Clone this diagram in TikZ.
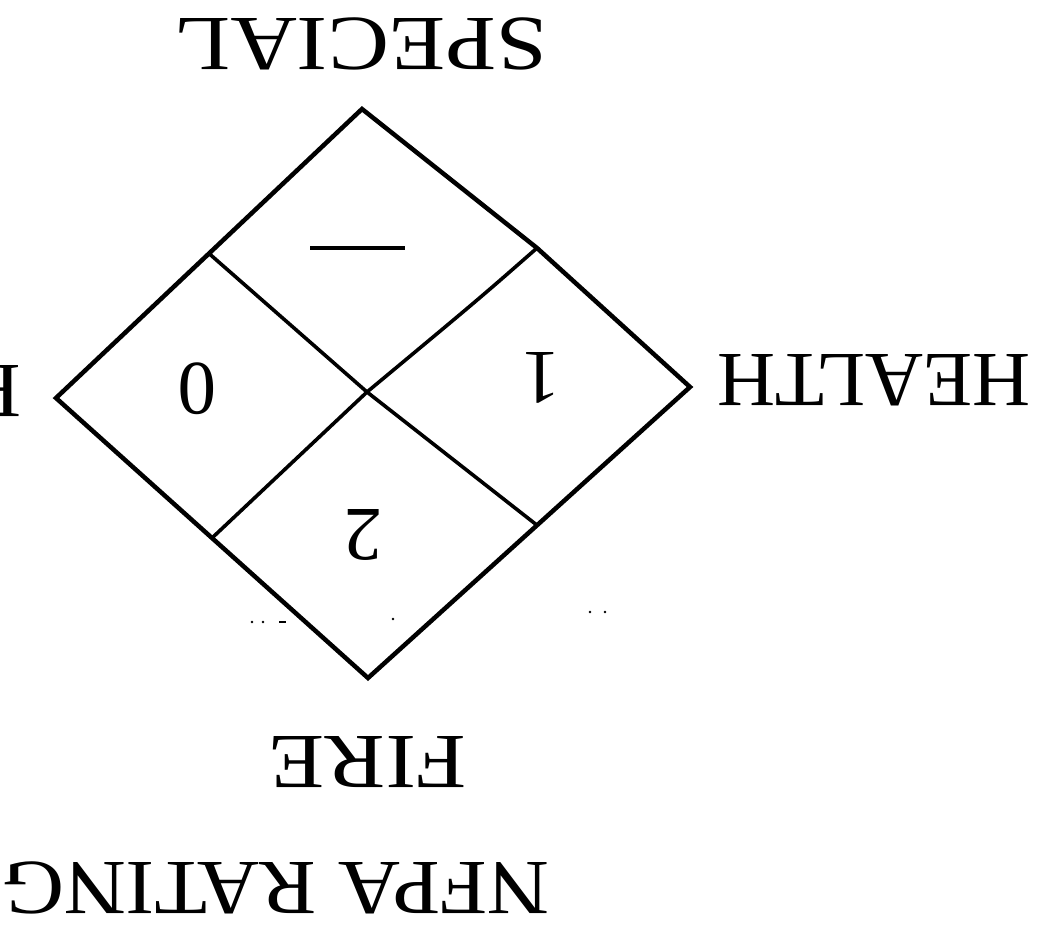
\documentclass[tikz,border=0pt]{standalone}
\usepackage{fontspec}
\setmainfont{Liberation Serif}
\usetikzlibrary{calc}
\begin{document}
\begin{tikzpicture}[x=1pt,y=-1pt,
  outline/.style={line width=4.5pt, line join=miter, line cap=round},
  divider/.style={line width=3.6pt, line cap=round},
  lbl/.style={rotate=180, inner sep=0pt, font=\fontsize{78}{90}\selectfont},
  num/.style={rotate=180, inner sep=0pt, font=\fontsize{77}{90}\selectfont},
  speck/.style={fill=black}]
\useasboundingbox (0,0) rectangle (1038,940);
% diamond vertices
\coordinate (T) at (362,109);
\coordinate (R) at (690,387);
\coordinate (B) at (368,678);
\coordinate (L) at (56,398);
\coordinate (C) at (367,392);
\coordinate (TL) at ($(T)!0.5!(L)$);
\coordinate (TR) at (537,248);
\coordinate (BR) at ($(R)!0.475!(B)$);
\coordinate (BL) at ($(L)!0.5!(B)$);
\draw[outline] (T) -- (TR) -- (R) -- (B) -- (L) -- cycle;
\draw[divider] (TL) -- (C) -- (BR);
\draw[divider] (TR) .. controls (480,298) .. (C) -- (BL);
% cell entries
\coordinate (dashL) at (310,248);
\coordinate (dashR) at (405,248);
\draw[line width=4.5pt] (dashL) -- (dashR);
\node[num] (n0) at (197,389) {0};
\node[num] (n1) at (541,378) {1};
\node[num] (n2) at (363,535) {2};
% labels
\node[lbl, xscale=1.18] (special) at (361,44) {SPECIAL};
\node[lbl, xscale=1.03] (health) at (874,380) {HEALTH};
\node[lbl, xscale=1.17] (fire) at (368,762) {FIRE};
\node[lbl, xscale=1.1, anchor=west] (nfpa) at (550,888) {NFPA RATING};
\node[lbl, xscale=1.1, anchor=west] (react) at (22,391) {REACTIVITY};
% scan specks
\foreach \p in {(252,622),(263,622),(393,619),(590,612),(605,612)}
  \fill[speck] \p circle (1.3);
\fill[speck] (279,621) rectangle (286,623);
\end{tikzpicture}
\end{document}
